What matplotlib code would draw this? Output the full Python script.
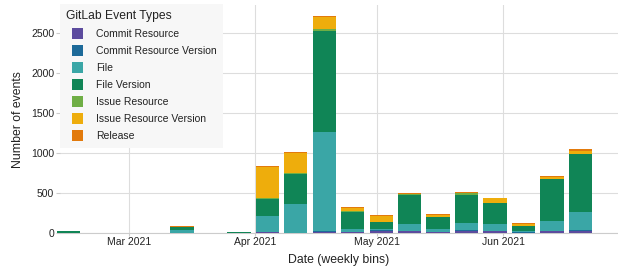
import matplotlib
matplotlib.use('Agg')
import matplotlib.pyplot as plt
import matplotlib.dates as mdates
from matplotlib.patches import Patch, Rectangle
from matplotlib.legend_handler import HandlerPatch
import numpy as np
import datetime as dt

plt.rcParams['font.family'] = ['Liberation Sans', 'DejaVu Sans']

# ---- data ----
weeks = ['2021-02-11', '2021-02-18', '2021-02-25', '2021-03-04', '2021-03-11',
         '2021-03-18', '2021-03-25', '2021-04-01', '2021-04-08', '2021-04-15',
         '2021-04-22', '2021-04-29', '2021-05-06', '2021-05-13', '2021-05-20',
         '2021-05-27', '2021-06-03', '2021-06-10', '2021-06-17', '2021-06-24']
event_types = ['Commit Resource', 'Commit Resource Version', 'File', 'File Version',
               'Issue Resource', 'Issue Resource Version', 'Release']
commit_resource = [0, 0, 0, 0, 8, 0, 0, 20, 0, 15, 20, 25, 28, 12, 29, 33, 5, 29, 30, 0]
commit_resource_version = [0, 0, 0, 0, 0, 0, 0, 0, 0, 18, 0, 12, 0, 8, 16, 0, 12, 0, 11, 0]
file_ = [8, 0, 0, 0, 35, 0, 2, 200, 370, 1234, 33, 12, 88, 33, 87, 87, 12, 125, 225, 0]
file_version = [16, 0, 0, 0, 37, 0, 10, 212, 371, 1262, 212, 95, 366, 154, 350, 262, 67, 525, 725, 0]
issue_resource = [0, 0, 0, 0, 0, 0, 0, 5, 8, 25, 10, 0, 12, 0, 20, 0, 0, 0, 0, 0]
issue_resource_version = [0, 0, 0, 0, 3, 0, 0, 390, 254, 150, 37, 72, 0, 25, 0, 54, 25, 25, 33, 0]
release = [0, 0, 0, 0, 7, 0, 0, 15, 12, 12, 12, 12, 8, 12, 16, 8, 12, 12, 29, 8]
series = [commit_resource, commit_resource_version, file_, file_version,
          issue_resource, issue_resource_version, release]
colors = ['#5c4b9e', '#1d6a99', '#3aa6a6', '#108556', '#6fae45', '#eead0c', '#e27a0c']
month_ticks = ['2021-03-01', '2021-04-01', '2021-05-01', '2021-06-01']
month_labels = ['Mar 2021', 'Apr 2021', 'May 2021', 'Jun 2021']

# ---- figure ----
W, H = 618, 269
fig = plt.figure(figsize=(W / 100, H / 100), dpi=100)
ax_left, ax_bottom, ax_top = 60, 35.7, 5.3
ax = fig.add_axes([ax_left / W, ax_bottom / H, (W - ax_left) / W, (H - ax_bottom - ax_top) / H])

x = mdates.date2num([np.datetime64(w) for w in weeks])
bottom = np.zeros(len(weeks))
for vals, c, lab in zip(series, colors, event_types):
    v = np.array(vals, dtype=float)
    ax.bar(x + 0.1, v, width=5.73, bottom=bottom, align='edge', color=c,
           linewidth=0, clip_on=False, zorder=3, label=lab)
    bottom += v

mar1 = mdates.date2num(np.datetime64('2021-03-01'))
px_per_day = 4.065
ax.set_xlim(mar1 - (129.3 - ax_left) / px_per_day, mar1 + (W - 129.3) / px_per_day)
ax.set_ylim(0, 2850)

ax.set_xticks(mdates.date2num([np.datetime64(m) for m in month_ticks]))
ax.set_xticklabels(month_labels)
ax.set_yticks([0, 500, 1000, 1500, 2000, 2500])
ax.set_yticklabels(['0', '500', '1000', '1500', '2000', '2500'])

ax.grid(True, color='#dddddd', linewidth=0.8, zorder=0)
ax.set_axisbelow(True)
for s in ['top', 'right', 'left']:
    ax.spines[s].set_visible(False)
ax.spines['bottom'].set_color('#cccccc')
ax.spines['bottom'].set_linewidth(0.8)
ax.tick_params(axis='y', length=3, width=0.8, color='#cccccc', pad=1.2,
               labelsize=7.5, labelcolor='#222222')
ax.tick_params(axis='x', length=2, width=0.8, color='#cccccc', pad=1.0,
               labelsize=7.5, labelcolor='#222222')

fig.text(338.5 / W, 1 - 259.5 / H, 'Date (weekly bins)', ha='center', va='center',
         fontsize=8.8, color='#222222')
fig.text(18 / W, 1 - 119.3 / H, 'Number of events', ha='center', va='center',
         rotation=90, fontsize=8.8, color='#222222')


def square(legend, orig_handle, xdescent, ydescent, width, height, fontsize):
    s = 7.92
    return Rectangle((width - s - xdescent, (height - s) / 2 - ydescent), s, s)


handles = [Patch(facecolor=c, label=l) for c, l in zip(colors, event_types)]
leg = ax.legend(handles=handles, title='GitLab Event Types', loc='upper left',
                bbox_to_anchor=(ax_left / W, 1 - 4 / H), bbox_transform=fig.transFigure,
                borderaxespad=0, fontsize=7.5, title_fontsize=8.75, alignment='left',
                handlelength=1.6, handleheight=1.1, handletextpad=1.25,
                labelspacing=0.62, borderpad=0.6, frameon=True, fancybox=False,
                facecolor='#f7f7f7', edgecolor='none', framealpha=1,
                handler_map={Patch: HandlerPatch(patch_func=square)})
leg.set_zorder(10)
for t in leg.get_texts():
    t.set_color('#222222')
leg.get_title().set_color('#222222')

fig.savefig('out.png', dpi=100)
